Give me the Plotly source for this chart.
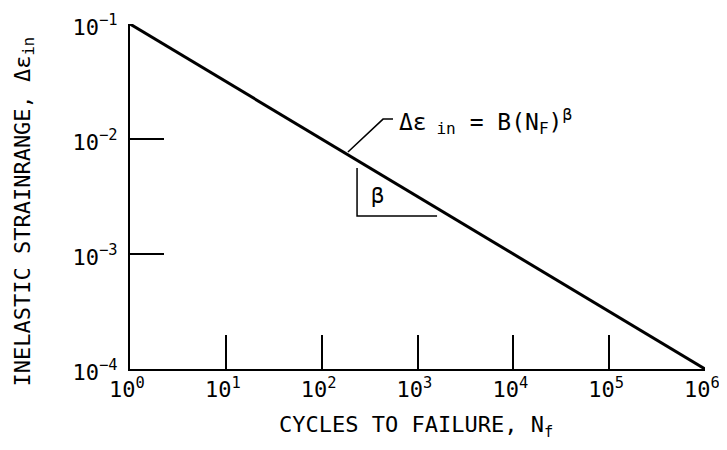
import plotly.graph_objs as go

# main strain-life line
cycles = [1, 1e6]
strain = [1e-1, 1e-4]

x_tickvals = [1, 10, 100, 1e3, 1e4, 1e5, 1e6]
x_ticktext = ["10<sup>0</sup>", "10<sup>1</sup>", "10<sup>2</sup>", "10<sup>3</sup>",
              "10<sup>4</sup>", "10<sup>5</sup>", "10<sup>6</sup>"]
y_tickvals = [1e-4, 1e-3, 1e-2, 1e-1]
y_ticktext = ["10<sup>−4</sup>", "10<sup>−3</sup>", "10<sup>−2</sup>", "10<sup>−1</sup>"]

# leader line from the curve to the equation label
leader_x = [188, 437, 555]
leader_y = [7.7e-3, 1.49e-2, 1.49e-2]

# slope triangle
tri_x = [234, 234, 1600]
tri_y = [5.6e-3, 2.14e-3, 2.14e-3]

FONT = "DejaVu Sans Mono, Liberation Mono, monospace"
BLACK = "black"

fig = go.Figure()
fig.add_trace(go.Scatter(x=cycles, y=strain, mode="lines",
                         line=dict(color=BLACK, width=3)))
fig.add_trace(go.Scatter(x=leader_x, y=leader_y, mode="lines",
                         line=dict(color=BLACK, width=1.5)))
fig.add_trace(go.Scatter(x=tri_x, y=tri_y, mode="lines",
                         line=dict(color=BLACK, width=1.5)))

# equation label and slope symbol (log axes -> positions in log10 units)
fig.add_annotation(x=2.79, y=-1.85, xref="x", yref="y", xanchor="left", yanchor="middle",
                   text="Δε<sub> in</sub> = B(N<sub>F</sub>)<sup>β</sup>", showarrow=False,
                   font=dict(family=FONT, size=23, color=BLACK))
fig.add_annotation(x=2.58, y=-2.49, xref="x", yref="y", xanchor="center", yanchor="middle",
                   text="β", showarrow=False,
                   font=dict(family=FONT, size=22, color=BLACK))

# axis titles
fig.add_annotation(x=-0.184, y=0.457, xref="paper", yref="paper", textangle=-90,
                   xanchor="center", yanchor="middle", showarrow=False,
                   text="INELASTIC STRAINRANGE, Δε<sub>in</sub>",
                   font=dict(family=FONT, size=22, color=BLACK))
fig.add_annotation(x=0.497, y=-0.168, xref="paper", yref="paper",
                   xanchor="center", yanchor="middle", showarrow=False,
                   text="CYCLES TO FAILURE, N<sub>f</sub>",
                   font=dict(family=FONT, size=22, color=BLACK))

axis_style = dict(type="log", ticks="inside", ticklen=34, tickwidth=2, tickcolor=BLACK,
                  showline=True, linewidth=2, linecolor=BLACK, showgrid=False,
                  zeroline=False, automargin=False, ticklabeloverflow="allow",
                  tickfont=dict(family=FONT, size=22, color=BLACK))
fig.update_xaxes(range=[0, 6], tickvals=x_tickvals, ticktext=x_ticktext,
                 ticklabelshift=-3, **axis_style)
fig.update_yaxes(range=[-4, -1], tickvals=y_tickvals, ticktext=y_ticktext,
                 ticklabelstandoff=6, ticklabelshift=3, **axis_style)

# page body has an 8px margin, so the figure is shrunk to fit inside the window
fig.update_layout(width=711, height=434, showlegend=False,
                  plot_bgcolor="white", paper_bgcolor="white",
                  margin=dict(l=122, r=14, t=16, b=73))

fig.write_html("out.html")
